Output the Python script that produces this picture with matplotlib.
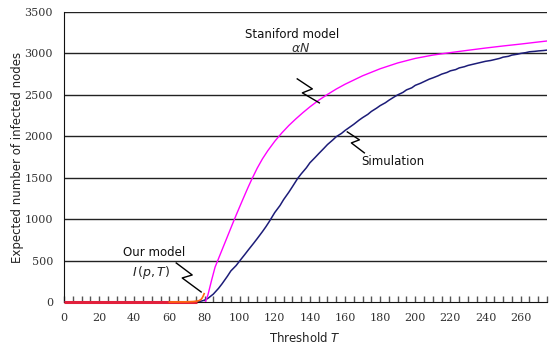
import matplotlib
matplotlib.use("Agg")
import matplotlib.pyplot as plt
from matplotlib.ticker import MultipleLocator

# ---- data ----
sim_T = [0, 70, 76, 78, 80, 82, 85, 88, 90, 93, 95, 98, 100, 103, 105, 108, 110, 113,
         115, 117, 120, 123, 125, 128, 130, 133, 135, 138, 140, 143, 145, 148, 150,
         153, 155, 158, 160, 163, 165, 168, 170, 173, 175, 178, 180, 183, 185, 188,
         190, 193, 195, 198, 200, 203, 205, 208, 210, 213, 215, 218, 220, 223, 225,
         228, 230, 233, 235, 238, 240, 243, 245, 248, 250, 253, 255, 258, 260, 263,
         265, 268, 270, 273, 275]
sim_N = [0, 0, 5, 10, 22, 45, 95, 165, 220, 310, 375, 440, 495, 575, 630, 710, 765, 850,
         910, 975, 1080, 1165, 1235, 1325, 1390, 1490, 1545, 1620, 1680, 1745, 1790, 1855, 1900,
         1955, 1995, 2035, 2070, 2115, 2145, 2195, 2225, 2265, 2300, 2340, 2370, 2405, 2435, 2475,
         2500, 2530, 2560, 2585, 2615, 2640, 2660, 2690, 2705, 2730, 2750, 2770, 2790, 2805, 2825,
         2840, 2855, 2870, 2880, 2895, 2905, 2915, 2925, 2940, 2955, 2965, 2980, 2990, 3000, 3010,
         3020, 3025, 3030, 3035, 3040]

stan_T = [80.5, 82, 84, 86, 88, 90, 92, 94, 96, 98, 100, 102, 104, 105, 107, 110, 113, 116,
          120, 124, 128, 132, 136, 140, 145, 150, 155, 160, 170, 180, 190, 200, 210, 220,
          230, 240, 250, 260, 270, 275]
stan_N = [0, 90, 260, 420, 525, 630, 735, 840, 945, 1048, 1148, 1247, 1345, 1393, 1485,
          1615, 1728, 1825, 1940, 2040, 2130, 2210, 2285, 2355, 2435, 2505, 2570, 2628, 2730,
          2815, 2885, 2940, 2980, 3010, 3038, 3065, 3090, 3113, 3138, 3150]

base_T = [0, 76]
base_N = [5, 5]

ours_T = [60, 70, 74, 76, 77, 78, 78.7, 79.3, 79.8]
ours_N = [0, 2, 6, 12, 18, 30, 50, 75, 100]

xticks = list(range(0, 261, 20))
yticks = list(range(0, 3501, 500))

fig = plt.figure(figsize=(5.49, 3.48), dpi=100)
ax = fig.add_axes([64/549, (348-302)/348, (547-64)/549, (302-12)/348])

for y in yticks[1:]:
    ax.axhline(y, color="#222222", lw=1.0, zorder=1)

ax.plot(sim_T, sim_N, color="#1c1c78", lw=1.1, zorder=3)
ax.plot(stan_T, stan_N, color="#ff00ff", lw=1.0, zorder=4)
ax.plot(base_T, base_N, color="#e2203c", lw=2.2, zorder=7, solid_capstyle="butt",
        clip_on=False)
ax.plot(ours_T, ours_N, color="#ff6a10", lw=1.2, zorder=7, clip_on=False)

ax.set_xlim(0, 275)
ax.set_ylim(0, 3500)
ax.set_xticks(xticks)
ax.set_yticks(yticks)
ax.xaxis.set_minor_locator(MultipleLocator(5))
ax.tick_params(axis="x", which="both", direction="in", length=4, width=1,
               color="#555555", pad=8)
ax.tick_params(axis="y", which="both", length=0, pad=8)
ax.tick_params(axis="both", labelsize=8, labelcolor="#333333",
               labelfontfamily="DejaVu Serif")

for s in ["top", "right"]:
    ax.spines[s].set_visible(False)
ax.spines["left"].set_color("#111111")
ax.spines["bottom"].set_color("#111111")

fig.text(18/549, 1 - 157/348, "Expected number of infected nodes", rotation=90,
         ha="center", va="center", fontsize=8.5, color="#222222")
fig.text(305/549, 1 - 338/348, "Threshold $T$", ha="center", va="center",
         fontsize=8.5, color="#222222")

# annotations
ax.text(130, 3225, "Staniford model", ha="center", va="center", fontsize=8.5, color="#111111")
ax.text(134.5, 3065, r"$\alpha N$", ha="center", va="center", fontsize=9, color="#333333")
ax.plot([132.8, 141.4, 135.7, 145.4], [2693, 2572, 2524, 2403], color="black", lw=1.0, zorder=6)

ax.text(187, 1690, "Simulation", ha="center", va="center", fontsize=8.5, color="#111111")
ax.plot([161.3, 168.2, 163.6, 171.0], [2053, 1957, 1920, 1800], color="black", lw=1.0, zorder=6)

ax.text(51.3, 595, "Our model", ha="center", va="center", fontsize=8.5, color="#111111")
ax.text(49.6, 362, r"$I\,(p,T)$", ha="center", va="center", fontsize=9, color="#222222")
ax.plot([63.9, 73.0, 67.3, 78.1], [471, 326, 290, 121], color="black", lw=1.0, zorder=6)

fig.savefig("out.png", dpi=100)
